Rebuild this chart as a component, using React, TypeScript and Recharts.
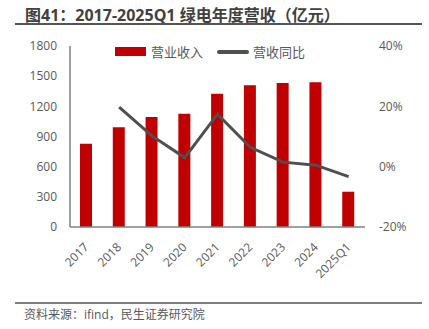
import {
  Bar,
  ComposedChart,
  Line,
  XAxis,
  YAxis,
} from "recharts";

const years = ["2017", "2018", "2019", "2020", "2021", "2022", "2023", "2024", "2025Q1"];
const revenue = [828, 991, 1094, 1127, 1326, 1409, 1432, 1439, 351];
const yoy = [null, 19.7, 10.2, 3.0, 17.4, 6.4, 1.5, 0.5, -3.3];
const leftTicks = [0, 300, 600, 900, 1200, 1500, 1800];
const rightTicks = [-20, 0, 20, 40];

const data = years.map((y, i) => ({ year: y, revenue: revenue[i], yoy: yoy[i] }));

const FONT = "'Open Sans', 'Noto Sans CJK SC', sans-serif";
const TEXT = "#595959";

// rotated category labels, right end sits just under the tick
function XTick(props: any) {
  const { x, y, payload } = props;
  const tx = x + 3;
  const ty = y + 13;
  return (
    <text
      x={tx}
      y={ty}
      transform={`rotate(-45, ${tx}, ${ty})`}
      textAnchor="end"
      fontSize={12}
      fill={TEXT}
      style={{ fontFamily: FONT }}
    >
      {payload.value}
    </text>
  );
}

function LegendBox() {
  return (
    <div style={{ display: "flex", alignItems: "center", fontSize: 13, color: TEXT, fontFamily: FONT }}>
      <span style={{ display: "inline-block", width: 31, height: 9, background: "#C00000", marginRight: 5 }} />
      <span style={{ marginRight: 14 }}>营业收入</span>
      <span style={{ display: "inline-block", width: 32, height: 4, borderRadius: 2, background: "#4F4F4F", marginRight: 4 }} />
      <span>营收同比</span>
    </div>
  );
}

export default function App() {
  return (
    <div style={{ position: "absolute", left: 0, top: 0, width: 429, height: 329, background: "#fff", fontFamily: FONT }}>
      <div style={{ position: "absolute", left: 25, top: 2, fontSize: 16, fontWeight: 700, color: "#404040", whiteSpace: "nowrap" }}>
        图41：2017-2025Q1 绿电年度营收（亿元）
      </div>
      <div style={{ position: "absolute", left: 15, top: 23, width: 407, height: 2, background: "#555" }} />
      <div style={{ position: "absolute", left: 0, top: 0 }}>
        <ComposedChart
          width={429}
          height={300}
          data={data}
          margin={{ top: 46, right: 0, left: 0, bottom: 0 }}
          style={{ fontFamily: FONT }}
        >
          <XAxis
            dataKey="year"
            height={73}
            tick={<XTick />}
            tickLine={false}
            axisLine={{ stroke: "#808080", strokeWidth: 1.5 }}
            interval={0}
          />
          <YAxis
            yAxisId="left"
            width={70}
            domain={[0, 1800]}
            ticks={leftTicks}
            tickLine={false}
            tickMargin={7}
            axisLine={{ stroke: "#808080", strokeWidth: 1.5 }}
            tick={{ fontSize: 12, fill: TEXT }}
          />
          <YAxis
            yAxisId="right"
            orientation="right"
            width={64}
            domain={[-20, 40]}
            ticks={rightTicks}
            tickLine={false}
            axisLine={false}
            tickMargin={8}
            tickFormatter={(v: number) => `${v}%`}
            tick={{ fontSize: 12, fill: TEXT, textAnchor: "start" }}
          />
          <Bar
            yAxisId="left"
            dataKey="revenue"
            name="营业收入"
            fill="#C00000"
            barSize={12}
            isAnimationActive={false}
          />
          <Line
            yAxisId="right"
            dataKey="yoy"
            name="营收同比"
            stroke="#4F4F4F"
            strokeWidth={3}
            dot={false}
            type="linear"
            isAnimationActive={false}
          />
        </ComposedChart>
      </div>
      <div style={{ position: "absolute", left: 115, top: 42 }}>
        <LegendBox />
      </div>
      <div style={{ position: "absolute", left: 15, top: 302, width: 407, height: 2, background: "#808080" }} />
      <div style={{ position: "absolute", left: 24, top: 305, fontSize: 12, color: TEXT, whiteSpace: "nowrap" }}>
        资料来源：ifind，民生证券研究院
      </div>
    </div>
  );
}
